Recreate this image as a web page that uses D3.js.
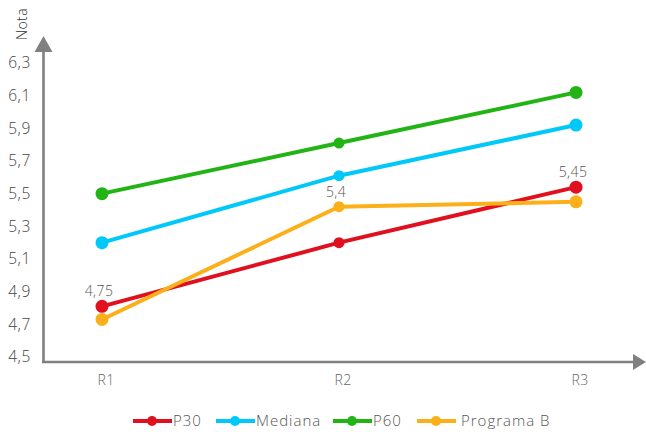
<!DOCTYPE html>
<html><head><meta charset="utf-8">
<script src="https://cdn.jsdelivr.net/npm/d3@7"></script>
<style>body{margin:0;background:#fff}svg{display:block}text{font-family:"Open Sans",Roboto,sans-serif}</style>
</head><body><svg id="c" width="646" height="435"></svg>
<script>
const categories = ["R1","R2","R3"];
const yTicks = [4.5,4.7,4.9,5.1,5.3,5.5,5.7,5.9,6.1,6.3];
const seriesNames = ["P30","Mediana","P60","Programa B"];
const p30 = [4.81,5.20,5.54];
const mediana = [5.20,5.61,5.92];
const p60 = [5.50,5.81,6.12];
const programaB = [4.73,5.42,5.45];
const dataLabels = ["4,75","5,4","5,45"];
const colors = ["#e0101e","#00c8f8","#22b414","#fbb01a"];

const svg = d3.select("#c");
const x = d3.scalePoint().domain(categories).range([102,576]);
const y = d3.scaleLinear().domain([4.5,6.3]).range([357,63]);
const fmt = v => d3.format(".1f")(v).replace(".",",");

// y tick labels
svg.append("g").selectAll("text").data(yTicks).join("text")
  .attr("x",31).attr("y",d=>y(d)).attr("dy","0.35em").attr("text-anchor","end")
  .attr("font-size",15.5).attr("font-weight",300).attr("letter-spacing",0.6).attr("fill","#444").text(fmt);

// axis title
svg.append("text").attr("transform","translate(27,24) rotate(-90)")
  .attr("text-anchor","middle").attr("font-size",14).attr("font-weight",300).attr("letter-spacing",0.4).attr("fill","#333").text("Nota");

// axes
const ax = "#808080";
svg.append("line").attr("x1",43.5).attr("x2",43.5).attr("y1",50).attr("y2",363).attr("stroke",ax).attr("stroke-width",2.6);
svg.append("line").attr("x1",42).attr("x2",635).attr("y1",362).attr("y2",362).attr("stroke",ax).attr("stroke-width",2.4);
svg.append("path").attr("d","M43.5,36 L52.5,52 L34.5,52 Z").attr("fill",ax);
svg.append("path").attr("d","M646,362 L633,354 L633,370 Z").attr("fill",ax);

// x labels
svg.append("g").selectAll("text").data(categories).join("text")
  .attr("x",d=>x(d)+4).attr("y",380).attr("dy","0.35em").attr("text-anchor","middle")
  .attr("font-size",14).attr("font-weight",300).attr("letter-spacing",0.4).attr("fill","#666").text(d=>d);

const series = [p30,mediana,p60,programaB];
const line = d3.line().x((d,i)=>x(categories[i])).y(d=>y(d));
const order = [2,1,0,3];
order.forEach(k=>{
  const vals = series[k];
  const g = svg.append("g");
  g.append("path").attr("d",line(vals)).attr("fill","none").attr("stroke",colors[k]).attr("stroke-width",4);
  g.selectAll("circle").data(vals).join("circle")
    .attr("cx",(d,i)=>x(categories[i])).attr("cy",d=>y(d))
    .attr("r",(d,i)=>i===1?5.5:6.5).attr("fill",colors[k]);
});

// data labels
svg.append("g").selectAll("text").data(dataLabels).join("text")
  .attr("x",(d,i)=>x(categories[i])-3)
  .attr("y",(d,i)=>y(Math.max(p30[i],programaB[i]))-15)
  .attr("dy","0.35em").attr("text-anchor","middle")
  .attr("font-size",14).attr("font-weight",300).attr("letter-spacing",0.4).attr("fill","#555").text(d=>d);

// legend
const legX = [133,216,333,417];
const lg = svg.append("g");
seriesNames.forEach((n,k)=>{
  const gx = legX[k];
  lg.append("line").attr("x1",gx).attr("x2",gx+39).attr("y1",421).attr("y2",421).attr("stroke",colors[k]).attr("stroke-width",4);
  lg.append("circle").attr("cx",gx+19).attr("cy",421).attr("r",5).attr("fill",colors[k]);
  lg.append("text").attr("x",gx+(k===3?44:40)).attr("y",421).attr("dy","0.35em")
    .attr("font-size",15).attr("font-weight",300).attr("fill","#555").attr("letter-spacing",1).text(n);
});
</script></body></html>
